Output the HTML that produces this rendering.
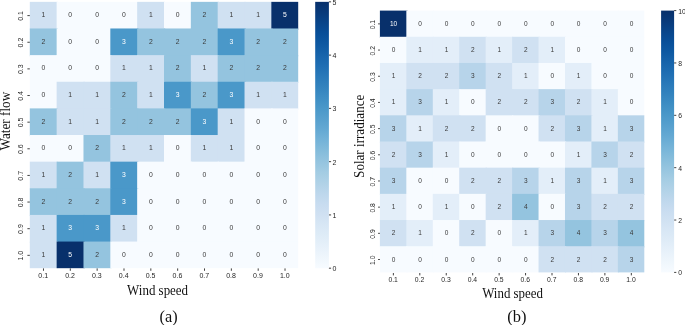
<!DOCTYPE html>
<html><head><meta charset="utf-8"><style>
html,body{margin:0;padding:0;background:#fff;}
body{width:685px;height:325px;overflow:hidden;}
svg{display:block;will-change:transform;}
.s{font-family:"Liberation Sans",sans-serif;}
.f{font-family:"Liberation Serif",serif;fill:#111;}
</style></head><body>
<svg width="685" height="325" viewBox="0 0 685 325">

<g shape-rendering="auto">
<rect x="29.80" y="1.85" width="28.04" height="27.83" fill="#d0e1f2"/>
<rect x="56.64" y="1.85" width="28.04" height="27.83" fill="#f7fbff"/>
<rect x="83.48" y="1.85" width="28.04" height="27.83" fill="#f7fbff"/>
<rect x="110.32" y="1.85" width="28.04" height="27.83" fill="#f7fbff"/>
<rect x="137.16" y="1.85" width="28.04" height="27.83" fill="#d0e1f2"/>
<rect x="164.00" y="1.85" width="28.04" height="27.83" fill="#f7fbff"/>
<rect x="190.84" y="1.85" width="28.04" height="27.83" fill="#94c4df"/>
<rect x="217.68" y="1.85" width="28.04" height="27.83" fill="#d0e1f2"/>
<rect x="244.52" y="1.85" width="28.04" height="27.83" fill="#d0e1f2"/>
<rect x="271.36" y="1.85" width="26.84" height="27.83" fill="#08306b"/>
<rect x="29.80" y="28.48" width="28.04" height="27.83" fill="#94c4df"/>
<rect x="56.64" y="28.48" width="28.04" height="27.83" fill="#f7fbff"/>
<rect x="83.48" y="28.48" width="28.04" height="27.83" fill="#f7fbff"/>
<rect x="110.32" y="28.48" width="28.04" height="27.83" fill="#4a98c9"/>
<rect x="137.16" y="28.48" width="28.04" height="27.83" fill="#94c4df"/>
<rect x="164.00" y="28.48" width="28.04" height="27.83" fill="#94c4df"/>
<rect x="190.84" y="28.48" width="28.04" height="27.83" fill="#94c4df"/>
<rect x="217.68" y="28.48" width="28.04" height="27.83" fill="#4a98c9"/>
<rect x="244.52" y="28.48" width="28.04" height="27.83" fill="#94c4df"/>
<rect x="271.36" y="28.48" width="26.84" height="27.83" fill="#94c4df"/>
<rect x="29.80" y="55.12" width="28.04" height="27.83" fill="#f7fbff"/>
<rect x="56.64" y="55.12" width="28.04" height="27.83" fill="#f7fbff"/>
<rect x="83.48" y="55.12" width="28.04" height="27.83" fill="#f7fbff"/>
<rect x="110.32" y="55.12" width="28.04" height="27.83" fill="#d0e1f2"/>
<rect x="137.16" y="55.12" width="28.04" height="27.83" fill="#d0e1f2"/>
<rect x="164.00" y="55.12" width="28.04" height="27.83" fill="#94c4df"/>
<rect x="190.84" y="55.12" width="28.04" height="27.83" fill="#d0e1f2"/>
<rect x="217.68" y="55.12" width="28.04" height="27.83" fill="#94c4df"/>
<rect x="244.52" y="55.12" width="28.04" height="27.83" fill="#94c4df"/>
<rect x="271.36" y="55.12" width="26.84" height="27.83" fill="#94c4df"/>
<rect x="29.80" y="81.75" width="28.04" height="27.83" fill="#f7fbff"/>
<rect x="56.64" y="81.75" width="28.04" height="27.83" fill="#d0e1f2"/>
<rect x="83.48" y="81.75" width="28.04" height="27.83" fill="#d0e1f2"/>
<rect x="110.32" y="81.75" width="28.04" height="27.83" fill="#94c4df"/>
<rect x="137.16" y="81.75" width="28.04" height="27.83" fill="#d0e1f2"/>
<rect x="164.00" y="81.75" width="28.04" height="27.83" fill="#4a98c9"/>
<rect x="190.84" y="81.75" width="28.04" height="27.83" fill="#94c4df"/>
<rect x="217.68" y="81.75" width="28.04" height="27.83" fill="#4a98c9"/>
<rect x="244.52" y="81.75" width="28.04" height="27.83" fill="#d0e1f2"/>
<rect x="271.36" y="81.75" width="26.84" height="27.83" fill="#d0e1f2"/>
<rect x="29.80" y="108.39" width="28.04" height="27.83" fill="#94c4df"/>
<rect x="56.64" y="108.39" width="28.04" height="27.83" fill="#d0e1f2"/>
<rect x="83.48" y="108.39" width="28.04" height="27.83" fill="#d0e1f2"/>
<rect x="110.32" y="108.39" width="28.04" height="27.83" fill="#94c4df"/>
<rect x="137.16" y="108.39" width="28.04" height="27.83" fill="#94c4df"/>
<rect x="164.00" y="108.39" width="28.04" height="27.83" fill="#94c4df"/>
<rect x="190.84" y="108.39" width="28.04" height="27.83" fill="#4a98c9"/>
<rect x="217.68" y="108.39" width="28.04" height="27.83" fill="#d0e1f2"/>
<rect x="244.52" y="108.39" width="28.04" height="27.83" fill="#f7fbff"/>
<rect x="271.36" y="108.39" width="26.84" height="27.83" fill="#f7fbff"/>
<rect x="29.80" y="135.02" width="28.04" height="27.83" fill="#f7fbff"/>
<rect x="56.64" y="135.02" width="28.04" height="27.83" fill="#f7fbff"/>
<rect x="83.48" y="135.02" width="28.04" height="27.83" fill="#94c4df"/>
<rect x="110.32" y="135.02" width="28.04" height="27.83" fill="#d0e1f2"/>
<rect x="137.16" y="135.02" width="28.04" height="27.83" fill="#d0e1f2"/>
<rect x="164.00" y="135.02" width="28.04" height="27.83" fill="#f7fbff"/>
<rect x="190.84" y="135.02" width="28.04" height="27.83" fill="#d0e1f2"/>
<rect x="217.68" y="135.02" width="28.04" height="27.83" fill="#d0e1f2"/>
<rect x="244.52" y="135.02" width="28.04" height="27.83" fill="#f7fbff"/>
<rect x="271.36" y="135.02" width="26.84" height="27.83" fill="#f7fbff"/>
<rect x="29.80" y="161.66" width="28.04" height="27.83" fill="#d0e1f2"/>
<rect x="56.64" y="161.66" width="28.04" height="27.83" fill="#94c4df"/>
<rect x="83.48" y="161.66" width="28.04" height="27.83" fill="#d0e1f2"/>
<rect x="110.32" y="161.66" width="28.04" height="27.83" fill="#4a98c9"/>
<rect x="137.16" y="161.66" width="28.04" height="27.83" fill="#f7fbff"/>
<rect x="164.00" y="161.66" width="28.04" height="27.83" fill="#f7fbff"/>
<rect x="190.84" y="161.66" width="28.04" height="27.83" fill="#f7fbff"/>
<rect x="217.68" y="161.66" width="28.04" height="27.83" fill="#f7fbff"/>
<rect x="244.52" y="161.66" width="28.04" height="27.83" fill="#f7fbff"/>
<rect x="271.36" y="161.66" width="26.84" height="27.83" fill="#f7fbff"/>
<rect x="29.80" y="188.29" width="28.04" height="27.83" fill="#94c4df"/>
<rect x="56.64" y="188.29" width="28.04" height="27.83" fill="#94c4df"/>
<rect x="83.48" y="188.29" width="28.04" height="27.83" fill="#94c4df"/>
<rect x="110.32" y="188.29" width="28.04" height="27.83" fill="#4a98c9"/>
<rect x="137.16" y="188.29" width="28.04" height="27.83" fill="#f7fbff"/>
<rect x="164.00" y="188.29" width="28.04" height="27.83" fill="#f7fbff"/>
<rect x="190.84" y="188.29" width="28.04" height="27.83" fill="#f7fbff"/>
<rect x="217.68" y="188.29" width="28.04" height="27.83" fill="#f7fbff"/>
<rect x="244.52" y="188.29" width="28.04" height="27.83" fill="#f7fbff"/>
<rect x="271.36" y="188.29" width="26.84" height="27.83" fill="#f7fbff"/>
<rect x="29.80" y="214.93" width="28.04" height="27.83" fill="#d0e1f2"/>
<rect x="56.64" y="214.93" width="28.04" height="27.83" fill="#4a98c9"/>
<rect x="83.48" y="214.93" width="28.04" height="27.83" fill="#4a98c9"/>
<rect x="110.32" y="214.93" width="28.04" height="27.83" fill="#d0e1f2"/>
<rect x="137.16" y="214.93" width="28.04" height="27.83" fill="#f7fbff"/>
<rect x="164.00" y="214.93" width="28.04" height="27.83" fill="#f7fbff"/>
<rect x="190.84" y="214.93" width="28.04" height="27.83" fill="#f7fbff"/>
<rect x="217.68" y="214.93" width="28.04" height="27.83" fill="#f7fbff"/>
<rect x="244.52" y="214.93" width="28.04" height="27.83" fill="#f7fbff"/>
<rect x="271.36" y="214.93" width="26.84" height="27.83" fill="#f7fbff"/>
<rect x="29.80" y="241.56" width="28.04" height="26.63" fill="#d0e1f2"/>
<rect x="56.64" y="241.56" width="28.04" height="26.63" fill="#08306b"/>
<rect x="83.48" y="241.56" width="28.04" height="26.63" fill="#94c4df"/>
<rect x="110.32" y="241.56" width="28.04" height="26.63" fill="#f7fbff"/>
<rect x="137.16" y="241.56" width="28.04" height="26.63" fill="#f7fbff"/>
<rect x="164.00" y="241.56" width="28.04" height="26.63" fill="#f7fbff"/>
<rect x="190.84" y="241.56" width="28.04" height="26.63" fill="#f7fbff"/>
<rect x="217.68" y="241.56" width="28.04" height="26.63" fill="#f7fbff"/>
<rect x="244.52" y="241.56" width="28.04" height="26.63" fill="#f7fbff"/>
<rect x="271.36" y="241.56" width="26.84" height="26.63" fill="#f7fbff"/>
</g>
<g class="s" font-size="6.8" text-anchor="middle">
<text x="43.42" y="17.17" fill="#3a3a3a">1</text>
<text x="70.26" y="17.17" fill="#3a3a3a">0</text>
<text x="97.10" y="17.17" fill="#3a3a3a">0</text>
<text x="123.94" y="17.17" fill="#3a3a3a">0</text>
<text x="150.78" y="17.17" fill="#3a3a3a">1</text>
<text x="177.62" y="17.17" fill="#3a3a3a">0</text>
<text x="204.46" y="17.17" fill="#3a3a3a">2</text>
<text x="231.30" y="17.17" fill="#3a3a3a">1</text>
<text x="258.14" y="17.17" fill="#3a3a3a">1</text>
<text x="284.98" y="17.17" fill="#ffffff">5</text>
<text x="43.42" y="43.80" fill="#3a3a3a">2</text>
<text x="70.26" y="43.80" fill="#3a3a3a">0</text>
<text x="97.10" y="43.80" fill="#3a3a3a">0</text>
<text x="123.94" y="43.80" fill="#ffffff">3</text>
<text x="150.78" y="43.80" fill="#3a3a3a">2</text>
<text x="177.62" y="43.80" fill="#3a3a3a">2</text>
<text x="204.46" y="43.80" fill="#3a3a3a">2</text>
<text x="231.30" y="43.80" fill="#ffffff">3</text>
<text x="258.14" y="43.80" fill="#3a3a3a">2</text>
<text x="284.98" y="43.80" fill="#3a3a3a">2</text>
<text x="43.42" y="70.44" fill="#3a3a3a">0</text>
<text x="70.26" y="70.44" fill="#3a3a3a">0</text>
<text x="97.10" y="70.44" fill="#3a3a3a">0</text>
<text x="123.94" y="70.44" fill="#3a3a3a">1</text>
<text x="150.78" y="70.44" fill="#3a3a3a">1</text>
<text x="177.62" y="70.44" fill="#3a3a3a">2</text>
<text x="204.46" y="70.44" fill="#3a3a3a">1</text>
<text x="231.30" y="70.44" fill="#3a3a3a">2</text>
<text x="258.14" y="70.44" fill="#3a3a3a">2</text>
<text x="284.98" y="70.44" fill="#3a3a3a">2</text>
<text x="43.42" y="97.07" fill="#3a3a3a">0</text>
<text x="70.26" y="97.07" fill="#3a3a3a">1</text>
<text x="97.10" y="97.07" fill="#3a3a3a">1</text>
<text x="123.94" y="97.07" fill="#3a3a3a">2</text>
<text x="150.78" y="97.07" fill="#3a3a3a">1</text>
<text x="177.62" y="97.07" fill="#ffffff">3</text>
<text x="204.46" y="97.07" fill="#3a3a3a">2</text>
<text x="231.30" y="97.07" fill="#ffffff">3</text>
<text x="258.14" y="97.07" fill="#3a3a3a">1</text>
<text x="284.98" y="97.07" fill="#3a3a3a">1</text>
<text x="43.42" y="123.71" fill="#3a3a3a">2</text>
<text x="70.26" y="123.71" fill="#3a3a3a">1</text>
<text x="97.10" y="123.71" fill="#3a3a3a">1</text>
<text x="123.94" y="123.71" fill="#3a3a3a">2</text>
<text x="150.78" y="123.71" fill="#3a3a3a">2</text>
<text x="177.62" y="123.71" fill="#3a3a3a">2</text>
<text x="204.46" y="123.71" fill="#ffffff">3</text>
<text x="231.30" y="123.71" fill="#3a3a3a">1</text>
<text x="258.14" y="123.71" fill="#3a3a3a">0</text>
<text x="284.98" y="123.71" fill="#3a3a3a">0</text>
<text x="43.42" y="150.34" fill="#3a3a3a">0</text>
<text x="70.26" y="150.34" fill="#3a3a3a">0</text>
<text x="97.10" y="150.34" fill="#3a3a3a">2</text>
<text x="123.94" y="150.34" fill="#3a3a3a">1</text>
<text x="150.78" y="150.34" fill="#3a3a3a">1</text>
<text x="177.62" y="150.34" fill="#3a3a3a">0</text>
<text x="204.46" y="150.34" fill="#3a3a3a">1</text>
<text x="231.30" y="150.34" fill="#3a3a3a">1</text>
<text x="258.14" y="150.34" fill="#3a3a3a">0</text>
<text x="284.98" y="150.34" fill="#3a3a3a">0</text>
<text x="43.42" y="176.98" fill="#3a3a3a">1</text>
<text x="70.26" y="176.98" fill="#3a3a3a">2</text>
<text x="97.10" y="176.98" fill="#3a3a3a">1</text>
<text x="123.94" y="176.98" fill="#ffffff">3</text>
<text x="150.78" y="176.98" fill="#3a3a3a">0</text>
<text x="177.62" y="176.98" fill="#3a3a3a">0</text>
<text x="204.46" y="176.98" fill="#3a3a3a">0</text>
<text x="231.30" y="176.98" fill="#3a3a3a">0</text>
<text x="258.14" y="176.98" fill="#3a3a3a">0</text>
<text x="284.98" y="176.98" fill="#3a3a3a">0</text>
<text x="43.42" y="203.61" fill="#3a3a3a">2</text>
<text x="70.26" y="203.61" fill="#3a3a3a">2</text>
<text x="97.10" y="203.61" fill="#3a3a3a">2</text>
<text x="123.94" y="203.61" fill="#ffffff">3</text>
<text x="150.78" y="203.61" fill="#3a3a3a">0</text>
<text x="177.62" y="203.61" fill="#3a3a3a">0</text>
<text x="204.46" y="203.61" fill="#3a3a3a">0</text>
<text x="231.30" y="203.61" fill="#3a3a3a">0</text>
<text x="258.14" y="203.61" fill="#3a3a3a">0</text>
<text x="284.98" y="203.61" fill="#3a3a3a">0</text>
<text x="43.42" y="230.25" fill="#3a3a3a">1</text>
<text x="70.26" y="230.25" fill="#ffffff">3</text>
<text x="97.10" y="230.25" fill="#ffffff">3</text>
<text x="123.94" y="230.25" fill="#3a3a3a">1</text>
<text x="150.78" y="230.25" fill="#3a3a3a">0</text>
<text x="177.62" y="230.25" fill="#3a3a3a">0</text>
<text x="204.46" y="230.25" fill="#3a3a3a">0</text>
<text x="231.30" y="230.25" fill="#3a3a3a">0</text>
<text x="258.14" y="230.25" fill="#3a3a3a">0</text>
<text x="284.98" y="230.25" fill="#3a3a3a">0</text>
<text x="43.42" y="256.88" fill="#3a3a3a">1</text>
<text x="70.26" y="256.88" fill="#ffffff">5</text>
<text x="97.10" y="256.88" fill="#3a3a3a">2</text>
<text x="123.94" y="256.88" fill="#3a3a3a">0</text>
<text x="150.78" y="256.88" fill="#3a3a3a">0</text>
<text x="177.62" y="256.88" fill="#3a3a3a">0</text>
<text x="204.46" y="256.88" fill="#3a3a3a">0</text>
<text x="231.30" y="256.88" fill="#3a3a3a">0</text>
<text x="258.14" y="256.88" fill="#3a3a3a">0</text>
<text x="284.98" y="256.88" fill="#3a3a3a">0</text>
</g>
<g stroke="#000" stroke-width="0.75">
<line x1="43.47" y1="268.40" x2="43.47" y2="270.80"/>
<line x1="70.31" y1="268.40" x2="70.31" y2="270.80"/>
<line x1="97.15" y1="268.40" x2="97.15" y2="270.80"/>
<line x1="123.99" y1="268.40" x2="123.99" y2="270.80"/>
<line x1="150.83" y1="268.40" x2="150.83" y2="270.80"/>
<line x1="177.67" y1="268.40" x2="177.67" y2="270.80"/>
<line x1="204.51" y1="268.40" x2="204.51" y2="270.80"/>
<line x1="231.35" y1="268.40" x2="231.35" y2="270.80"/>
<line x1="258.19" y1="268.40" x2="258.19" y2="270.80"/>
<line x1="285.03" y1="268.40" x2="285.03" y2="270.80"/>
<line x1="27.40" y1="15.62" x2="29.80" y2="15.62"/>
<line x1="27.40" y1="42.25" x2="29.80" y2="42.25"/>
<line x1="27.40" y1="68.89" x2="29.80" y2="68.89"/>
<line x1="27.40" y1="95.52" x2="29.80" y2="95.52"/>
<line x1="27.40" y1="122.16" x2="29.80" y2="122.16"/>
<line x1="27.40" y1="148.79" x2="29.80" y2="148.79"/>
<line x1="27.40" y1="175.43" x2="29.80" y2="175.43"/>
<line x1="27.40" y1="202.06" x2="29.80" y2="202.06"/>
<line x1="27.40" y1="228.70" x2="29.80" y2="228.70"/>
<line x1="27.40" y1="255.33" x2="29.80" y2="255.33"/>
<line x1="328.90" y1="268.20" x2="331.10" y2="268.20"/>
<line x1="328.90" y1="214.93" x2="331.10" y2="214.93"/>
<line x1="328.90" y1="161.66" x2="331.10" y2="161.66"/>
<line x1="328.90" y1="108.39" x2="331.10" y2="108.39"/>
<line x1="328.90" y1="55.12" x2="331.10" y2="55.12"/>
<line x1="328.90" y1="1.85" x2="331.10" y2="1.85"/>
</g>
<g class="s" font-size="7.0" fill="#262626">
<text x="43.22" y="277.70" text-anchor="middle">0.1</text>
<text x="70.06" y="277.70" text-anchor="middle">0.2</text>
<text x="96.90" y="277.70" text-anchor="middle">0.3</text>
<text x="123.74" y="277.70" text-anchor="middle">0.4</text>
<text x="150.58" y="277.70" text-anchor="middle">0.5</text>
<text x="177.42" y="277.70" text-anchor="middle">0.6</text>
<text x="204.26" y="277.70" text-anchor="middle">0.7</text>
<text x="231.10" y="277.70" text-anchor="middle">0.8</text>
<text x="257.94" y="277.70" text-anchor="middle">0.9</text>
<text x="284.78" y="277.70" text-anchor="middle">1.0</text>
<text transform="translate(23.30,15.97) rotate(-90)" text-anchor="middle">0.1</text>
<text transform="translate(23.30,42.60) rotate(-90)" text-anchor="middle">0.2</text>
<text transform="translate(23.30,69.24) rotate(-90)" text-anchor="middle">0.3</text>
<text transform="translate(23.30,95.87) rotate(-90)" text-anchor="middle">0.4</text>
<text transform="translate(23.30,122.51) rotate(-90)" text-anchor="middle">0.5</text>
<text transform="translate(23.30,149.14) rotate(-90)" text-anchor="middle">0.6</text>
<text transform="translate(23.30,175.78) rotate(-90)" text-anchor="middle">0.7</text>
<text transform="translate(23.30,202.41) rotate(-90)" text-anchor="middle">0.8</text>
<text transform="translate(23.30,229.05) rotate(-90)" text-anchor="middle">0.9</text>
<text transform="translate(23.30,255.68) rotate(-90)" text-anchor="middle">1.0</text>
<text x="332.60" y="271.30">0</text>
<text x="332.60" y="218.03">1</text>
<text x="332.60" y="164.76">2</text>
<text x="332.60" y="111.49">3</text>
<text x="332.60" y="58.22">4</text>
<text x="332.60" y="4.95">5</text>
</g>
<defs><linearGradient id="ga" x1="0" y1="1" x2="0" y2="0">
<stop offset="0.00" stop-color="#f7fbff"/>
<stop offset="0.04" stop-color="#eff6fc"/>
<stop offset="0.08" stop-color="#e7f1fa"/>
<stop offset="0.12" stop-color="#dfecf7"/>
<stop offset="0.16" stop-color="#d8e7f5"/>
<stop offset="0.20" stop-color="#d0e1f2"/>
<stop offset="0.24" stop-color="#c8dcf0"/>
<stop offset="0.28" stop-color="#bdd7ec"/>
<stop offset="0.32" stop-color="#b0d2e7"/>
<stop offset="0.36" stop-color="#a3cce3"/>
<stop offset="0.40" stop-color="#94c4df"/>
<stop offset="0.44" stop-color="#84bcdb"/>
<stop offset="0.48" stop-color="#74b3d8"/>
<stop offset="0.52" stop-color="#64a9d3"/>
<stop offset="0.56" stop-color="#57a0ce"/>
<stop offset="0.60" stop-color="#4a98c9"/>
<stop offset="0.64" stop-color="#3e8ec4"/>
<stop offset="0.68" stop-color="#3383be"/>
<stop offset="0.72" stop-color="#2979b9"/>
<stop offset="0.76" stop-color="#1f6eb3"/>
<stop offset="0.80" stop-color="#1764ab"/>
<stop offset="0.84" stop-color="#0e59a2"/>
<stop offset="0.88" stop-color="#084f99"/>
<stop offset="0.92" stop-color="#08458a"/>
<stop offset="0.96" stop-color="#083a7a"/>
<stop offset="1.00" stop-color="#08306b"/>
</linearGradient></defs>
<rect x="315.20" y="1.85" width="13.70" height="266.35" fill="url(#ga)"/>
<g shape-rendering="auto">
<rect x="379.90" y="10.60" width="27.64" height="27.38" fill="#08306b"/>
<rect x="406.34" y="10.60" width="27.64" height="27.38" fill="#f7fbff"/>
<rect x="432.78" y="10.60" width="27.64" height="27.38" fill="#f7fbff"/>
<rect x="459.22" y="10.60" width="27.64" height="27.38" fill="#f7fbff"/>
<rect x="485.66" y="10.60" width="27.64" height="27.38" fill="#f7fbff"/>
<rect x="512.10" y="10.60" width="27.64" height="27.38" fill="#f7fbff"/>
<rect x="538.54" y="10.60" width="27.64" height="27.38" fill="#f7fbff"/>
<rect x="564.98" y="10.60" width="27.64" height="27.38" fill="#f7fbff"/>
<rect x="591.42" y="10.60" width="27.64" height="27.38" fill="#f7fbff"/>
<rect x="617.86" y="10.60" width="26.44" height="27.38" fill="#f7fbff"/>
<rect x="379.90" y="36.78" width="27.64" height="27.38" fill="#f7fbff"/>
<rect x="406.34" y="36.78" width="27.64" height="27.38" fill="#e3eef9"/>
<rect x="432.78" y="36.78" width="27.64" height="27.38" fill="#e3eef9"/>
<rect x="459.22" y="36.78" width="27.64" height="27.38" fill="#d0e1f2"/>
<rect x="485.66" y="36.78" width="27.64" height="27.38" fill="#e3eef9"/>
<rect x="512.10" y="36.78" width="27.64" height="27.38" fill="#d0e1f2"/>
<rect x="538.54" y="36.78" width="27.64" height="27.38" fill="#e3eef9"/>
<rect x="564.98" y="36.78" width="27.64" height="27.38" fill="#f7fbff"/>
<rect x="591.42" y="36.78" width="27.64" height="27.38" fill="#f7fbff"/>
<rect x="617.86" y="36.78" width="26.44" height="27.38" fill="#f7fbff"/>
<rect x="379.90" y="62.96" width="27.64" height="27.38" fill="#e3eef9"/>
<rect x="406.34" y="62.96" width="27.64" height="27.38" fill="#d0e1f2"/>
<rect x="432.78" y="62.96" width="27.64" height="27.38" fill="#d0e1f2"/>
<rect x="459.22" y="62.96" width="27.64" height="27.38" fill="#b7d4ea"/>
<rect x="485.66" y="62.96" width="27.64" height="27.38" fill="#d0e1f2"/>
<rect x="512.10" y="62.96" width="27.64" height="27.38" fill="#e3eef9"/>
<rect x="538.54" y="62.96" width="27.64" height="27.38" fill="#f7fbff"/>
<rect x="564.98" y="62.96" width="27.64" height="27.38" fill="#e3eef9"/>
<rect x="591.42" y="62.96" width="27.64" height="27.38" fill="#f7fbff"/>
<rect x="617.86" y="62.96" width="26.44" height="27.38" fill="#f7fbff"/>
<rect x="379.90" y="89.14" width="27.64" height="27.38" fill="#e3eef9"/>
<rect x="406.34" y="89.14" width="27.64" height="27.38" fill="#b7d4ea"/>
<rect x="432.78" y="89.14" width="27.64" height="27.38" fill="#e3eef9"/>
<rect x="459.22" y="89.14" width="27.64" height="27.38" fill="#f7fbff"/>
<rect x="485.66" y="89.14" width="27.64" height="27.38" fill="#d0e1f2"/>
<rect x="512.10" y="89.14" width="27.64" height="27.38" fill="#d0e1f2"/>
<rect x="538.54" y="89.14" width="27.64" height="27.38" fill="#b7d4ea"/>
<rect x="564.98" y="89.14" width="27.64" height="27.38" fill="#d0e1f2"/>
<rect x="591.42" y="89.14" width="27.64" height="27.38" fill="#e3eef9"/>
<rect x="617.86" y="89.14" width="26.44" height="27.38" fill="#f7fbff"/>
<rect x="379.90" y="115.32" width="27.64" height="27.38" fill="#b7d4ea"/>
<rect x="406.34" y="115.32" width="27.64" height="27.38" fill="#e3eef9"/>
<rect x="432.78" y="115.32" width="27.64" height="27.38" fill="#d0e1f2"/>
<rect x="459.22" y="115.32" width="27.64" height="27.38" fill="#d0e1f2"/>
<rect x="485.66" y="115.32" width="27.64" height="27.38" fill="#f7fbff"/>
<rect x="512.10" y="115.32" width="27.64" height="27.38" fill="#f7fbff"/>
<rect x="538.54" y="115.32" width="27.64" height="27.38" fill="#d0e1f2"/>
<rect x="564.98" y="115.32" width="27.64" height="27.38" fill="#b7d4ea"/>
<rect x="591.42" y="115.32" width="27.64" height="27.38" fill="#e3eef9"/>
<rect x="617.86" y="115.32" width="26.44" height="27.38" fill="#b7d4ea"/>
<rect x="379.90" y="141.50" width="27.64" height="27.38" fill="#d0e1f2"/>
<rect x="406.34" y="141.50" width="27.64" height="27.38" fill="#b7d4ea"/>
<rect x="432.78" y="141.50" width="27.64" height="27.38" fill="#e3eef9"/>
<rect x="459.22" y="141.50" width="27.64" height="27.38" fill="#f7fbff"/>
<rect x="485.66" y="141.50" width="27.64" height="27.38" fill="#f7fbff"/>
<rect x="512.10" y="141.50" width="27.64" height="27.38" fill="#f7fbff"/>
<rect x="538.54" y="141.50" width="27.64" height="27.38" fill="#f7fbff"/>
<rect x="564.98" y="141.50" width="27.64" height="27.38" fill="#e3eef9"/>
<rect x="591.42" y="141.50" width="27.64" height="27.38" fill="#b7d4ea"/>
<rect x="617.86" y="141.50" width="26.44" height="27.38" fill="#d0e1f2"/>
<rect x="379.90" y="167.68" width="27.64" height="27.38" fill="#b7d4ea"/>
<rect x="406.34" y="167.68" width="27.64" height="27.38" fill="#f7fbff"/>
<rect x="432.78" y="167.68" width="27.64" height="27.38" fill="#f7fbff"/>
<rect x="459.22" y="167.68" width="27.64" height="27.38" fill="#d0e1f2"/>
<rect x="485.66" y="167.68" width="27.64" height="27.38" fill="#d0e1f2"/>
<rect x="512.10" y="167.68" width="27.64" height="27.38" fill="#b7d4ea"/>
<rect x="538.54" y="167.68" width="27.64" height="27.38" fill="#e3eef9"/>
<rect x="564.98" y="167.68" width="27.64" height="27.38" fill="#b7d4ea"/>
<rect x="591.42" y="167.68" width="27.64" height="27.38" fill="#e3eef9"/>
<rect x="617.86" y="167.68" width="26.44" height="27.38" fill="#b7d4ea"/>
<rect x="379.90" y="193.86" width="27.64" height="27.38" fill="#e3eef9"/>
<rect x="406.34" y="193.86" width="27.64" height="27.38" fill="#f7fbff"/>
<rect x="432.78" y="193.86" width="27.64" height="27.38" fill="#e3eef9"/>
<rect x="459.22" y="193.86" width="27.64" height="27.38" fill="#f7fbff"/>
<rect x="485.66" y="193.86" width="27.64" height="27.38" fill="#d0e1f2"/>
<rect x="512.10" y="193.86" width="27.64" height="27.38" fill="#94c4df"/>
<rect x="538.54" y="193.86" width="27.64" height="27.38" fill="#f7fbff"/>
<rect x="564.98" y="193.86" width="27.64" height="27.38" fill="#b7d4ea"/>
<rect x="591.42" y="193.86" width="27.64" height="27.38" fill="#d0e1f2"/>
<rect x="617.86" y="193.86" width="26.44" height="27.38" fill="#d0e1f2"/>
<rect x="379.90" y="220.04" width="27.64" height="27.38" fill="#d0e1f2"/>
<rect x="406.34" y="220.04" width="27.64" height="27.38" fill="#e3eef9"/>
<rect x="432.78" y="220.04" width="27.64" height="27.38" fill="#f7fbff"/>
<rect x="459.22" y="220.04" width="27.64" height="27.38" fill="#d0e1f2"/>
<rect x="485.66" y="220.04" width="27.64" height="27.38" fill="#f7fbff"/>
<rect x="512.10" y="220.04" width="27.64" height="27.38" fill="#e3eef9"/>
<rect x="538.54" y="220.04" width="27.64" height="27.38" fill="#b7d4ea"/>
<rect x="564.98" y="220.04" width="27.64" height="27.38" fill="#94c4df"/>
<rect x="591.42" y="220.04" width="27.64" height="27.38" fill="#b7d4ea"/>
<rect x="617.86" y="220.04" width="26.44" height="27.38" fill="#94c4df"/>
<rect x="379.90" y="246.22" width="27.64" height="26.18" fill="#f7fbff"/>
<rect x="406.34" y="246.22" width="27.64" height="26.18" fill="#f7fbff"/>
<rect x="432.78" y="246.22" width="27.64" height="26.18" fill="#f7fbff"/>
<rect x="459.22" y="246.22" width="27.64" height="26.18" fill="#f7fbff"/>
<rect x="485.66" y="246.22" width="27.64" height="26.18" fill="#f7fbff"/>
<rect x="512.10" y="246.22" width="27.64" height="26.18" fill="#f7fbff"/>
<rect x="538.54" y="246.22" width="27.64" height="26.18" fill="#d0e1f2"/>
<rect x="564.98" y="246.22" width="27.64" height="26.18" fill="#d0e1f2"/>
<rect x="591.42" y="246.22" width="27.64" height="26.18" fill="#d0e1f2"/>
<rect x="617.86" y="246.22" width="26.44" height="26.18" fill="#b7d4ea"/>
</g>
<g class="s" font-size="6.5" text-anchor="middle">
<text x="393.57" y="25.89" fill="#ffffff">10</text>
<text x="420.01" y="25.89" fill="#3a3a3a">0</text>
<text x="446.45" y="25.89" fill="#3a3a3a">0</text>
<text x="472.89" y="25.89" fill="#3a3a3a">0</text>
<text x="499.33" y="25.89" fill="#3a3a3a">0</text>
<text x="525.77" y="25.89" fill="#3a3a3a">0</text>
<text x="552.21" y="25.89" fill="#3a3a3a">0</text>
<text x="578.65" y="25.89" fill="#3a3a3a">0</text>
<text x="605.09" y="25.89" fill="#3a3a3a">0</text>
<text x="631.53" y="25.89" fill="#3a3a3a">0</text>
<text x="393.57" y="52.07" fill="#3a3a3a">0</text>
<text x="420.01" y="52.07" fill="#3a3a3a">1</text>
<text x="446.45" y="52.07" fill="#3a3a3a">1</text>
<text x="472.89" y="52.07" fill="#3a3a3a">2</text>
<text x="499.33" y="52.07" fill="#3a3a3a">1</text>
<text x="525.77" y="52.07" fill="#3a3a3a">2</text>
<text x="552.21" y="52.07" fill="#3a3a3a">1</text>
<text x="578.65" y="52.07" fill="#3a3a3a">0</text>
<text x="605.09" y="52.07" fill="#3a3a3a">0</text>
<text x="631.53" y="52.07" fill="#3a3a3a">0</text>
<text x="393.57" y="78.25" fill="#3a3a3a">1</text>
<text x="420.01" y="78.25" fill="#3a3a3a">2</text>
<text x="446.45" y="78.25" fill="#3a3a3a">2</text>
<text x="472.89" y="78.25" fill="#3a3a3a">3</text>
<text x="499.33" y="78.25" fill="#3a3a3a">2</text>
<text x="525.77" y="78.25" fill="#3a3a3a">1</text>
<text x="552.21" y="78.25" fill="#3a3a3a">0</text>
<text x="578.65" y="78.25" fill="#3a3a3a">1</text>
<text x="605.09" y="78.25" fill="#3a3a3a">0</text>
<text x="631.53" y="78.25" fill="#3a3a3a">0</text>
<text x="393.57" y="104.43" fill="#3a3a3a">1</text>
<text x="420.01" y="104.43" fill="#3a3a3a">3</text>
<text x="446.45" y="104.43" fill="#3a3a3a">1</text>
<text x="472.89" y="104.43" fill="#3a3a3a">0</text>
<text x="499.33" y="104.43" fill="#3a3a3a">2</text>
<text x="525.77" y="104.43" fill="#3a3a3a">2</text>
<text x="552.21" y="104.43" fill="#3a3a3a">3</text>
<text x="578.65" y="104.43" fill="#3a3a3a">2</text>
<text x="605.09" y="104.43" fill="#3a3a3a">1</text>
<text x="631.53" y="104.43" fill="#3a3a3a">0</text>
<text x="393.57" y="130.61" fill="#3a3a3a">3</text>
<text x="420.01" y="130.61" fill="#3a3a3a">1</text>
<text x="446.45" y="130.61" fill="#3a3a3a">2</text>
<text x="472.89" y="130.61" fill="#3a3a3a">2</text>
<text x="499.33" y="130.61" fill="#3a3a3a">0</text>
<text x="525.77" y="130.61" fill="#3a3a3a">0</text>
<text x="552.21" y="130.61" fill="#3a3a3a">2</text>
<text x="578.65" y="130.61" fill="#3a3a3a">3</text>
<text x="605.09" y="130.61" fill="#3a3a3a">1</text>
<text x="631.53" y="130.61" fill="#3a3a3a">3</text>
<text x="393.57" y="156.79" fill="#3a3a3a">2</text>
<text x="420.01" y="156.79" fill="#3a3a3a">3</text>
<text x="446.45" y="156.79" fill="#3a3a3a">1</text>
<text x="472.89" y="156.79" fill="#3a3a3a">0</text>
<text x="499.33" y="156.79" fill="#3a3a3a">0</text>
<text x="525.77" y="156.79" fill="#3a3a3a">0</text>
<text x="552.21" y="156.79" fill="#3a3a3a">0</text>
<text x="578.65" y="156.79" fill="#3a3a3a">1</text>
<text x="605.09" y="156.79" fill="#3a3a3a">3</text>
<text x="631.53" y="156.79" fill="#3a3a3a">2</text>
<text x="393.57" y="182.97" fill="#3a3a3a">3</text>
<text x="420.01" y="182.97" fill="#3a3a3a">0</text>
<text x="446.45" y="182.97" fill="#3a3a3a">0</text>
<text x="472.89" y="182.97" fill="#3a3a3a">2</text>
<text x="499.33" y="182.97" fill="#3a3a3a">2</text>
<text x="525.77" y="182.97" fill="#3a3a3a">3</text>
<text x="552.21" y="182.97" fill="#3a3a3a">1</text>
<text x="578.65" y="182.97" fill="#3a3a3a">3</text>
<text x="605.09" y="182.97" fill="#3a3a3a">1</text>
<text x="631.53" y="182.97" fill="#3a3a3a">3</text>
<text x="393.57" y="209.15" fill="#3a3a3a">1</text>
<text x="420.01" y="209.15" fill="#3a3a3a">0</text>
<text x="446.45" y="209.15" fill="#3a3a3a">1</text>
<text x="472.89" y="209.15" fill="#3a3a3a">0</text>
<text x="499.33" y="209.15" fill="#3a3a3a">2</text>
<text x="525.77" y="209.15" fill="#3a3a3a">4</text>
<text x="552.21" y="209.15" fill="#3a3a3a">0</text>
<text x="578.65" y="209.15" fill="#3a3a3a">3</text>
<text x="605.09" y="209.15" fill="#3a3a3a">2</text>
<text x="631.53" y="209.15" fill="#3a3a3a">2</text>
<text x="393.57" y="235.33" fill="#3a3a3a">2</text>
<text x="420.01" y="235.33" fill="#3a3a3a">1</text>
<text x="446.45" y="235.33" fill="#3a3a3a">0</text>
<text x="472.89" y="235.33" fill="#3a3a3a">2</text>
<text x="499.33" y="235.33" fill="#3a3a3a">0</text>
<text x="525.77" y="235.33" fill="#3a3a3a">1</text>
<text x="552.21" y="235.33" fill="#3a3a3a">3</text>
<text x="578.65" y="235.33" fill="#3a3a3a">4</text>
<text x="605.09" y="235.33" fill="#3a3a3a">3</text>
<text x="631.53" y="235.33" fill="#3a3a3a">4</text>
<text x="393.57" y="261.51" fill="#3a3a3a">0</text>
<text x="420.01" y="261.51" fill="#3a3a3a">0</text>
<text x="446.45" y="261.51" fill="#3a3a3a">0</text>
<text x="472.89" y="261.51" fill="#3a3a3a">0</text>
<text x="499.33" y="261.51" fill="#3a3a3a">0</text>
<text x="525.77" y="261.51" fill="#3a3a3a">0</text>
<text x="552.21" y="261.51" fill="#3a3a3a">2</text>
<text x="578.65" y="261.51" fill="#3a3a3a">2</text>
<text x="605.09" y="261.51" fill="#3a3a3a">2</text>
<text x="631.53" y="261.51" fill="#3a3a3a">3</text>
</g>
<g stroke="#000" stroke-width="0.75">
<line x1="393.37" y1="273.00" x2="393.37" y2="275.40"/>
<line x1="419.81" y1="273.00" x2="419.81" y2="275.40"/>
<line x1="446.25" y1="273.00" x2="446.25" y2="275.40"/>
<line x1="472.69" y1="273.00" x2="472.69" y2="275.40"/>
<line x1="499.13" y1="273.00" x2="499.13" y2="275.40"/>
<line x1="525.57" y1="273.00" x2="525.57" y2="275.40"/>
<line x1="552.01" y1="273.00" x2="552.01" y2="275.40"/>
<line x1="578.45" y1="273.00" x2="578.45" y2="275.40"/>
<line x1="604.89" y1="273.00" x2="604.89" y2="275.40"/>
<line x1="631.33" y1="273.00" x2="631.33" y2="275.40"/>
<line x1="378.10" y1="23.89" x2="379.90" y2="23.89"/>
<line x1="378.10" y1="50.07" x2="379.90" y2="50.07"/>
<line x1="378.10" y1="76.25" x2="379.90" y2="76.25"/>
<line x1="378.10" y1="102.43" x2="379.90" y2="102.43"/>
<line x1="378.10" y1="128.61" x2="379.90" y2="128.61"/>
<line x1="378.10" y1="154.79" x2="379.90" y2="154.79"/>
<line x1="378.10" y1="180.97" x2="379.90" y2="180.97"/>
<line x1="378.10" y1="207.15" x2="379.90" y2="207.15"/>
<line x1="378.10" y1="233.33" x2="379.90" y2="233.33"/>
<line x1="378.10" y1="259.51" x2="379.90" y2="259.51"/>
<line x1="674.10" y1="272.40" x2="676.30" y2="272.40"/>
<line x1="674.10" y1="220.04" x2="676.30" y2="220.04"/>
<line x1="674.10" y1="167.68" x2="676.30" y2="167.68"/>
<line x1="674.10" y1="115.32" x2="676.30" y2="115.32"/>
<line x1="674.10" y1="62.96" x2="676.30" y2="62.96"/>
<line x1="674.10" y1="10.60" x2="676.30" y2="10.60"/>
</g>
<g class="s" font-size="6.8" fill="#262626">
<text x="393.12" y="281.80" text-anchor="middle">0.1</text>
<text x="419.56" y="281.80" text-anchor="middle">0.2</text>
<text x="446.00" y="281.80" text-anchor="middle">0.3</text>
<text x="472.44" y="281.80" text-anchor="middle">0.4</text>
<text x="498.88" y="281.80" text-anchor="middle">0.5</text>
<text x="525.32" y="281.80" text-anchor="middle">0.6</text>
<text x="551.76" y="281.80" text-anchor="middle">0.7</text>
<text x="578.20" y="281.80" text-anchor="middle">0.8</text>
<text x="604.64" y="281.80" text-anchor="middle">0.9</text>
<text x="631.08" y="281.80" text-anchor="middle">1.0</text>
<text transform="translate(375.20,24.59) rotate(-90)" text-anchor="middle">0.1</text>
<text transform="translate(375.20,50.77) rotate(-90)" text-anchor="middle">0.2</text>
<text transform="translate(375.20,76.95) rotate(-90)" text-anchor="middle">0.3</text>
<text transform="translate(375.20,103.13) rotate(-90)" text-anchor="middle">0.4</text>
<text transform="translate(375.20,129.31) rotate(-90)" text-anchor="middle">0.5</text>
<text transform="translate(375.20,155.49) rotate(-90)" text-anchor="middle">0.6</text>
<text transform="translate(375.20,181.67) rotate(-90)" text-anchor="middle">0.7</text>
<text transform="translate(375.20,207.85) rotate(-90)" text-anchor="middle">0.8</text>
<text transform="translate(375.20,234.03) rotate(-90)" text-anchor="middle">0.9</text>
<text transform="translate(375.20,260.21) rotate(-90)" text-anchor="middle">1.0</text>
<text x="678.30" y="275.40">0</text>
<text x="678.30" y="223.04">2</text>
<text x="678.30" y="170.68">4</text>
<text x="678.30" y="118.32">6</text>
<text x="678.30" y="65.96">8</text>
<text x="678.30" y="13.60">10</text>
</g>
<defs><linearGradient id="gb" x1="0" y1="1" x2="0" y2="0">
<stop offset="0.00" stop-color="#f7fbff"/>
<stop offset="0.04" stop-color="#eff6fc"/>
<stop offset="0.08" stop-color="#e7f1fa"/>
<stop offset="0.12" stop-color="#dfecf7"/>
<stop offset="0.16" stop-color="#d8e7f5"/>
<stop offset="0.20" stop-color="#d0e1f2"/>
<stop offset="0.24" stop-color="#c8dcf0"/>
<stop offset="0.28" stop-color="#bdd7ec"/>
<stop offset="0.32" stop-color="#b0d2e7"/>
<stop offset="0.36" stop-color="#a3cce3"/>
<stop offset="0.40" stop-color="#94c4df"/>
<stop offset="0.44" stop-color="#84bcdb"/>
<stop offset="0.48" stop-color="#74b3d8"/>
<stop offset="0.52" stop-color="#64a9d3"/>
<stop offset="0.56" stop-color="#57a0ce"/>
<stop offset="0.60" stop-color="#4a98c9"/>
<stop offset="0.64" stop-color="#3e8ec4"/>
<stop offset="0.68" stop-color="#3383be"/>
<stop offset="0.72" stop-color="#2979b9"/>
<stop offset="0.76" stop-color="#1f6eb3"/>
<stop offset="0.80" stop-color="#1764ab"/>
<stop offset="0.84" stop-color="#0e59a2"/>
<stop offset="0.88" stop-color="#084f99"/>
<stop offset="0.92" stop-color="#08458a"/>
<stop offset="0.96" stop-color="#083a7a"/>
<stop offset="1.00" stop-color="#08306b"/>
</linearGradient></defs>
<rect x="661.10" y="10.60" width="13.00" height="261.80" fill="url(#gb)"/>
<g class="f" font-size="13.7">
<text x="127.1" y="295.0" textLength="61" lengthAdjust="spacingAndGlyphs">Wind speed</text>
<text x="482.2" y="298.2" textLength="60.8" lengthAdjust="spacingAndGlyphs">Wind speed</text>
<text transform="translate(9.8,150.4) rotate(-90)" textLength="58.6" lengthAdjust="spacingAndGlyphs">Water flow</text>
<text transform="translate(363.7,177.9) rotate(-90)" textLength="83.2" lengthAdjust="spacingAndGlyphs">Solar irradiance</text>
</g>
<g class="f" font-size="16">
<text x="159.5" y="321.7" textLength="18.1" lengthAdjust="spacingAndGlyphs">(a)</text>
<text x="507.2" y="321.7" textLength="19.2" lengthAdjust="spacingAndGlyphs">(b)</text>
</g>
</svg></body></html>
